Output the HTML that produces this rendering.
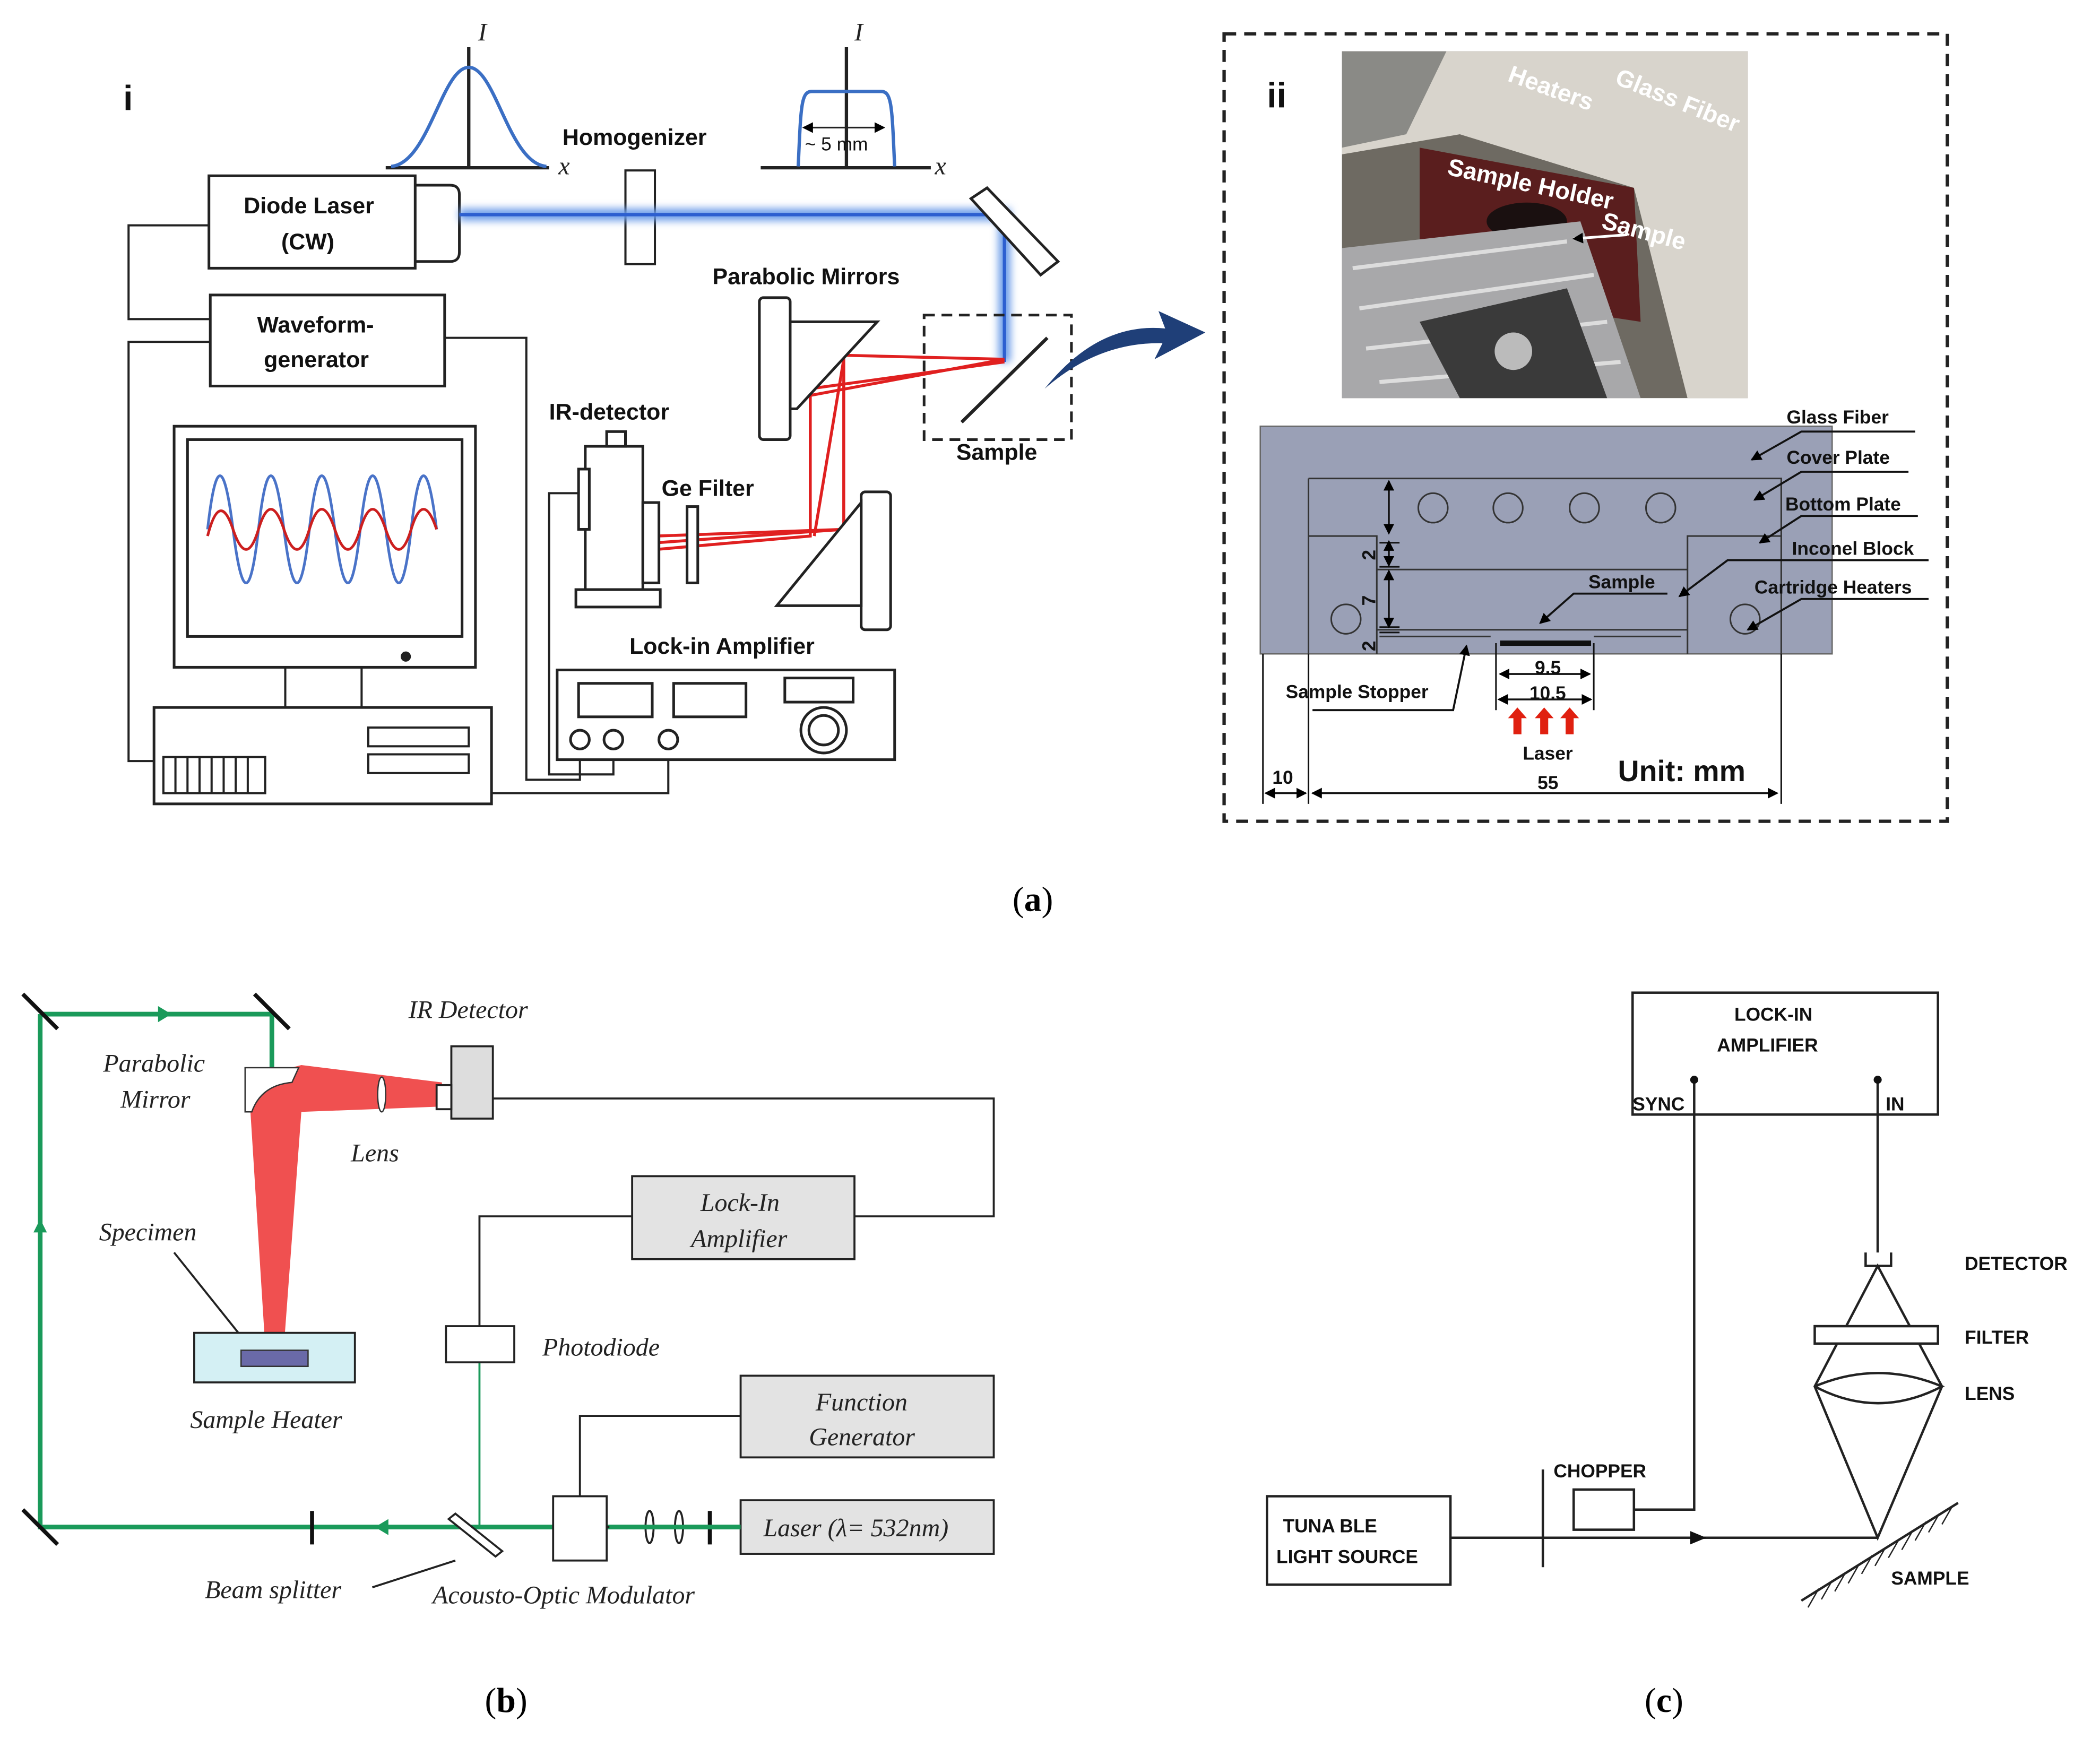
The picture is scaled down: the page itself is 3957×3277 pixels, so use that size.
<!DOCTYPE html>
<html><head><meta charset="utf-8"><style>
html,body{margin:0;padding:0;background:#fff}
svg{display:block}
.s{font-family:"Liberation Sans",sans-serif;font-weight:bold;font-size:17px;fill:#111}
.it{font-family:"Liberation Serif",serif;font-style:italic;font-size:19px;fill:#222}
.c{font-family:"Liberation Sans",sans-serif;font-weight:bold;font-size:14px;fill:#111}
.sm{font-family:"Liberation Sans",sans-serif;font-weight:bold;font-size:14px;fill:#111}
</style></head><body>
<svg width="3957" height="3277" viewBox="0 0 1568 1298" xmlns="http://www.w3.org/2000/svg">
<defs>
<filter id="gl" x="-20%" y="-50%" width="140%" height="200%"><feGaussianBlur stdDeviation="3"/></filter>
<marker id="ah" markerWidth="8" markerHeight="8" refX="7" refY="4" orient="auto" markerUnits="userSpaceOnUse"><path d="M0,0 L8,4 L0,8z" fill="#000"/></marker>
<marker id="as" markerWidth="8" markerHeight="8" refX="1" refY="4" orient="auto" markerUnits="userSpaceOnUse"><path d="M8,0 L0,4 L8,8z" fill="#000"/></marker>
</defs>
<rect width="1568" height="1298" fill="#fff"/>
<g stroke="#222" fill="none" stroke-width="1.6">
<line x1="288" y1="125" x2="410" y2="125" stroke-width="2.5"/>
<line x1="350" y1="35" x2="350" y2="125" stroke-width="2.5"/>
<path d="M292,124 C320,122 330,50 350,50 C370,50 380,122 408,124" stroke="#3b6fc4" stroke-width="2.5"/>
<line x1="568" y1="125" x2="695" y2="125" stroke-width="2.5"/>
<line x1="632" y1="35" x2="632" y2="125" stroke-width="2.5"/>
<path d="M596,124 C598,80 598,68 606,68 L658,68 C666,68 666,80 668,124" stroke="#3b6fc4" stroke-width="2.5"/>
<line x1="600" y1="95" x2="660" y2="95" marker-end="url(#ah)" marker-start="url(#as)" stroke-width="1.2"/>
<rect x="467" y="127" width="22" height="70"/>
<rect x="156" y="131" width="154" height="69" stroke-width="2"/>
<path d="M310,138 L336,138 Q343,138 343,145 L343,188 Q343,195 336,195 L310,195" stroke-width="2"/>
<rect x="157" y="220" width="175" height="68" stroke-width="2"/>
<path d="M156,168 H96 V238 H157 M157,255 H96 V568 H115 M332,252 H393 V582 H433 V559 M437,368 H410 V578 H458 V559 M367,592 H499 V559"/>
<rect x="130" y="318" width="225" height="180" stroke-width="2"/>
<rect x="140" y="328" width="205" height="147" stroke-width="2"/>
<circle cx="303" cy="490" r="3" fill="#222"/>
<rect x="213" y="498" width="57" height="30"/>
<rect x="115" y="528" width="252" height="72" stroke-width="2"/>
<rect x="122" y="565" width="76" height="27"/>
<path d="M131,565v27M140,565v27M149,565v27M158,565v27M167,565v27M176,565v27M185,565v27"/>
<rect x="275" y="543" width="75" height="14"/><rect x="275" y="563" width="75" height="14"/>
<path d="M155,395 Q164,315 174,395 T193,395 T212,395 T231,395 T250,395 T269,395 T288,395 T307,395 T326,395" stroke="#4a73c8" stroke-width="2"/>
<path d="M155,400 Q164,365 174,395 T193,395 T212,395 T231,395 T250,395 T269,395 T288,395 T307,395 T326,395" stroke="#cc1f1f" stroke-width="2"/>
</g>
<path d="M343,160 H750 V270" stroke="#6b9be8" stroke-width="9" fill="none" filter="url(#gl)"/>
<path d="M343,160 H750 V270" stroke="#2d5fd0" stroke-width="2.5" fill="none"/>
<g stroke="#e02020" stroke-width="2.2" fill="none">
<path d="M750,268 L630,265 V395 L490,405"/>
<path d="M750,268 L605,295 V400 L490,410"/>
<path d="M750,270 L605,290 M630,268 L608,400 M630,395 L490,400"/>
</g>
<g stroke="#222" fill="#fff" stroke-width="2">
<rect x="567" y="222" width="23" height="106" rx="3"/>
<path d="M590,240 L655,240 L595,305 L590,305z"/>
<rect x="643" y="367" width="22" height="103" rx="3"/>
<path d="M643,375 L643,452 L580,452z"/>
<path d="M737,140 L790,195 L777,205 L725,148z"/>
<line x1="718" y1="315" x2="782" y2="252" stroke-width="2.5"/>
<rect x="690" y="235" width="110" height="93" fill="none" stroke-dasharray="8,5"/>
<rect x="437" y="333" width="43" height="107"/><rect x="430" y="440" width="63" height="13"/>
<rect x="453" y="322" width="14" height="11"/><rect x="480" y="375" width="12" height="60"/>
<rect x="432" y="350" width="8" height="45"/>
<rect x="513" y="378" width="8" height="57"/>
<rect x="416" y="500" width="252" height="67"/>
<rect x="432" y="510" width="55" height="25"/><rect x="503" y="510" width="54" height="25"/><rect x="586" y="506" width="51" height="18"/>
<circle cx="615" cy="545" r="17"/><circle cx="615" cy="545" r="11"/>
<circle cx="433" cy="552" r="7"/><circle cx="458" cy="552" r="7"/><circle cx="499" cy="552" r="7"/>
</g>
<path d="M780,290 Q820,240 870,245 L865,232 L900,248 L862,268 L868,256 Q820,255 780,290z" fill="#1f3f78"/>
<g class="s">
<text x="92" y="82" style="font-size:26px">i</text>
<text x="357" y="30" class="it" style="font-weight:normal">I</text>
<text x="638" y="30" class="it" style="font-weight:normal">I</text>
<text x="417" y="130" class="it" style="font-weight:normal">x</text>
<text x="698" y="130" class="it" style="font-weight:normal">x</text>
<text x="601" y="112" style="font-weight:normal;font-size:14px">~ 5 mm</text>
<text x="420" y="108">Homogenizer</text>
<text x="182" y="159">Diode Laser</text><text x="210" y="186">(CW)</text>
<text x="192" y="248">Waveform-</text><text x="197" y="274">generator</text>
<text x="532" y="212">Parabolic Mirrors</text>
<text x="410" y="313">IR-detector</text>
<text x="494" y="370">Ge Filter</text>
<text x="470" y="488">Lock-in Amplifier</text>
<text x="714" y="343">Sample</text>
</g>
<!-- panel ii -->
<rect x="914" y="25" width="540" height="588" fill="none" stroke="#222" stroke-width="2.5" stroke-dasharray="9,6"/>
<text x="946" y="80" class="s" style="font-size:26px">ii</text>
<rect x="1002" y="38" width="303" height="259" fill="#6e6a62"/>
<path d="M1002,38 H1305 V297 H1260 L1220,140 L1090,100 L1002,115z" fill="#d8d4cc"/>
<path d="M1002,38 H1080 L1050,100 L1002,110z" fill="#8a8a86"/>
<path d="M1060,110 L1220,140 L1225,240 L1060,215z" fill="#5a1e1e"/>
<ellipse cx="1140" cy="165" rx="30" ry="14" fill="#1a1010"/>
<path d="M1002,185 L1180,165 L1225,297 H1002z" fill="#a8a8aa"/>
<path d="M1010,200 L1170,180 M1015,230 L1190,205 M1020,260 L1200,240 M1030,285 L1210,270" stroke="#ddd" stroke-width="3"/>
<path d="M1060,240 L1170,215 L1200,297 H1090z" fill="#3a3a3a"/>
<circle cx="1130" cy="262" r="14" fill="#bbb"/>
<g font-family="Liberation Sans,sans-serif" font-weight="bold" font-size="18" fill="#fff">
<text x="1125" y="60" transform="rotate(20 1125 60)">Heaters</text>
<text x="1205" y="62" transform="rotate(22 1205 62)">Glass Fiber</text>
<text x="1080" y="130" transform="rotate(12 1080 130)">Sample Holder</text>
<text x="1195" y="170" transform="rotate(15 1195 170)">Sample</text>
</g>
<path d="M1215,175 L1175,178" stroke="#fff" stroke-width="2" marker-end="url(#ah)"/>
<rect x="941" y="318" width="427" height="170" fill="#9aa0b6" stroke="#666"/>
<g stroke="#333" fill="none" stroke-width="1.2">
<path d="M977,357 H1330 V488 M977,357 V488 M977,400 H1028 V488 M1028,425 H1260 M1260,488 V400 H1330 M1028,470 H1260 M1030,475 H1113 M1190,475 H1255"/>
<circle cx="1070" cy="379" r="11"/><circle cx="1126" cy="379" r="11"/><circle cx="1183" cy="379" r="11"/><circle cx="1240" cy="379" r="11"/>
<circle cx="1005" cy="462" r="11"/><circle cx="1303" cy="462" r="11"/>
<path d="M943,488V600 M977,488V600 M1330,488V600 M1117,480V530 M1190,480V530 M1030,405H1045 M1030,423H1045 M1030,468H1045 M1030,472H1045" stroke="#111"/>
</g>
<g stroke="#111" stroke-width="1.4" fill="none" marker-start="url(#as)" marker-end="url(#ah)">
<line x1="1037" y1="359" x2="1037" y2="398"/>
<line x1="1037" y1="404" x2="1037" y2="422"/>
<line x1="1037" y1="426" x2="1037" y2="468"/>
<line x1="945" y1="592" x2="975" y2="592"/>
<line x1="980" y1="592" x2="1327" y2="592"/>
<line x1="1120" y1="503" x2="1187" y2="503"/>
<line x1="1119" y1="522" x2="1188" y2="522"/>
</g>
<g stroke="#111" stroke-width="1.5" fill="none">
<path d="M1430,322 H1345 L1308,343" marker-end="url(#ah)"/>
<path d="M1425,352 H1345 L1310,373" marker-end="url(#ah)"/>
<path d="M1432,385 H1345 L1314,405" marker-end="url(#ah)"/>
<path d="M1440,418 H1290 L1254,445" marker-end="url(#ah)"/>
<path d="M1440,447 H1345 L1305,470" marker-end="url(#ah)"/>
<path d="M1245,443 H1175 L1150,465" marker-end="url(#ah)"/>
<path d="M980,530 H1085 L1095,482" marker-end="url(#ah)"/>
</g>
<rect x="1120" y="478" width="68" height="4" fill="#111"/>
<g font-family="Liberation Sans,sans-serif" font-weight="bold" font-size="14" fill="#111" transform="">
<text x="1027" y="418" transform="rotate(-90 1027 418)">2</text>
<text x="1027" y="452" transform="rotate(-90 1027 452)">7</text>
<text x="1027" y="486" transform="rotate(-90 1027 486)">2</text>
</g>
<g fill="#e02010"><path d="M1130,548h6v-12h4l-7,-8l-7,8h4z"/><path d="M1150,548h6v-12h4l-7,-8l-7,8h4z"/><path d="M1169,548h6v-12h4l-7,-8l-7,8h4z"/></g>
<g class="sm">
<text x="1334" y="316">Glass Fiber</text><text x="1334" y="346">Cover Plate</text>
<text x="1333" y="381">Bottom Plate</text><text x="1338" y="414">Inconel Block</text>
<text x="1310" y="443">Cartridge Heaters</text><text x="1186" y="439">Sample</text>
<text x="960" y="521">Sample Stopper</text><text x="1146" y="503">9.5</text><text x="1142" y="522">10.5</text>
<text x="1137" y="567">Laser</text><text x="1148" y="589">55</text><text x="950" y="585">10</text>
<text x="1208" y="583" style="font-size:22px">Unit: mm</text>
</g>
<text x="756" y="680" font-family="Liberation Serif,serif" font-size="26">(<tspan font-weight="bold">a</tspan>)</text>
<!-- panel b -->
<g stroke="#1a9a5a" stroke-width="3.5" fill="none">
<path d="M30,757 H203 V1005 M30,757 V1140 H555"/>
</g>
<g stroke="#111" stroke-width="3"><path d="M17,742 L43,768 M190,742 L216,768 M17,1127 L43,1153"/><path d="M233,1128V1153 M530,1128V1153"/></g>
<path d="M118,751 l10,6 l-10,6z M290,1134 l-10,6 l10,6z M25,920 l5,-10 l5,10z" fill="#1a9a5a"/>
<line x1="358" y1="1017" x2="358" y2="1140" stroke="#1a9a5a" stroke-width="1.5"/>
<path d="M187,805 L225,795 L330,808 L330,826 L225,830 L212,1005 L198,1005 L187,830z" fill="#f05050"/>
<path d="M183,797 H223 L218,808 Q195,810 188,830 H183z" fill="#fff" stroke="#333"/>
<ellipse cx="285" cy="817" rx="3" ry="13" fill="#fff" stroke="#333"/>
<g stroke="#222" stroke-width="1.5" fill="none">
<rect x="337" y="781" width="31" height="54" fill="#ddd"/>
<rect x="326" y="810" width="11" height="18" fill="#fff"/>
<path d="M368,820 H742 V908 H638 M472,908 H358 V990 M553,1057 H433 V1117 M453,1140 H553 M130,935 L190,1010 M278,1185 L340,1165"/>
<rect x="472" y="878" width="166" height="62" fill="#e3e3e3"/>
<rect x="333" y="990" width="51" height="27" fill="#fff"/>
<rect x="553" y="1027" width="189" height="61" fill="#e3e3e3"/>
<rect x="413" y="1117" width="40" height="48" fill="#fff"/>
<rect x="553" y="1120" width="189" height="40" fill="#e3e3e3"/>
<rect x="145" y="995" width="120" height="37" fill="#d4f0f4"/>
<path d="M340,1130 L375,1158 L370,1162 L335,1134z" fill="#fff"/>
<ellipse cx="485" cy="1140" rx="3" ry="12" fill="#fff"/><ellipse cx="507" cy="1140" rx="3" ry="12" fill="#fff"/>
</g>
<line x1="455" y1="1140" x2="553" y2="1140" stroke="#1a9a5a" stroke-width="3.5"/>
<rect x="180" y="1008" width="50" height="12" fill="#6a6aa8" stroke="#333"/>
<g class="it">
<text x="305" y="760">IR Detector</text><text x="77" y="800">Parabolic</text><text x="90" y="827">Mirror</text>
<text x="262" y="867">Lens</text><text x="74" y="926">Specimen</text><text x="523" y="904">Lock-In</text><text x="516" y="931">Amplifier</text>
<text x="405" y="1012">Photodiode</text><text x="142" y="1066">Sample Heater</text><text x="609" y="1053">Function</text><text x="604" y="1079">Generator</text>
<text x="570" y="1147">Laser (λ= 532nm)</text><text x="153" y="1193">Beam splitter</text><text x="323" y="1197">Acousto-Optic  Modulator</text>
</g>
<text x="362" y="1278" font-family="Liberation Serif,serif" font-size="26">(<tspan font-weight="bold">b</tspan>)</text>
<!-- panel c -->
<g stroke="#222" stroke-width="1.8" fill="none">
<rect x="1219" y="741" width="228" height="91"/>
<path d="M1265,806 V1127 H1220 M1402,806 V935 M1152,1097 V1170 M1083,1148 H1402"/>
<rect x="1175" y="1112" width="45" height="30"/>
<rect x="946" y="1117" width="137" height="66"/>
<path d="M1393,935 V945 H1412 V935"/>
<path d="M1402,945 L1355,1035 L1402,1148 L1450,1035z"/>
<rect x="1355" y="990" width="92" height="13" fill="#fff"/>
<path d="M1355,1035 Q1402,1060 1450,1035 Q1402,1015 1355,1035"/>
<path d="M1345,1195 L1462,1122"/>
<path d="M1350,1200l8,-14 M1360,1194l8,-14 M1370,1188l8,-14 M1380,1182l8,-14 M1390,1175l8,-14 M1400,1169l8,-14 M1410,1163l8,-14 M1420,1157l8,-14 M1430,1150l8,-14 M1440,1144l8,-14 M1450,1138l8,-14" stroke-width="1"/>
</g>
<circle cx="1265" cy="806" r="3" fill="#111"/><circle cx="1402" cy="806" r="3" fill="#111"/>
<path d="M1262,1143 l12,5 l-12,5z" fill="#111"/>
<g class="c">
<text x="1295" y="762">LOCK-IN</text><text x="1282" y="785">AMPLIFIER</text>
<text x="1219" y="829">SYNC</text><text x="1408" y="829">IN</text>
<text x="1467" y="948">DETECTOR</text><text x="1467" y="1003">FILTER</text><text x="1467" y="1045">LENS</text>
<text x="1160" y="1103">CHOPPER</text><text x="958" y="1144">TUNA BLE</text><text x="953" y="1167">LIGHT SOURCE</text>
<text x="1412" y="1183">SAMPLE</text>
</g>
<text x="1228" y="1278" font-family="Liberation Serif,serif" font-size="26">(<tspan font-weight="bold">c</tspan>)</text>
</svg>
</body></html>
